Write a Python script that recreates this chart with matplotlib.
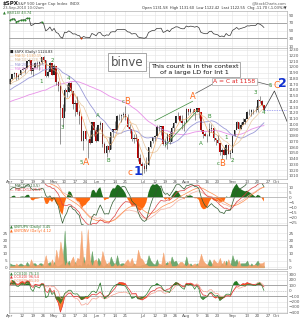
import numpy as np
import pandas as pd
import matplotlib
matplotlib.use("Agg")
import matplotlib.pyplot as plt

# ---------------- data ----------------
pre_close = [1094.9, 1099.5, 1106.8, 1109.2, 1108.0, 1094.6, 1105.2, 1102.9, 1104.5, 1115.7,
             1118.3, 1118.8, 1122.9, 1138.7, 1138.5, 1140.4, 1145.6, 1150.2, 1150.0, 1150.5,
             1159.5, 1166.2, 1165.8, 1159.9, 1165.8, 1174.2, 1167.7, 1165.7, 1166.6, 1173.2,
             1173.3, 1169.4]

close = [1178.1, 1187.4, 1189.4, 1182.5, 1186.4, 1194.4, 1196.5, 1197.3, 1210.7, 1211.7, 1192.1,
         1197.5, 1207.2, 1205.9, 1208.7, 1217.3, 1212.1, 1183.7, 1191.4, 1206.8, 1186.7,
         1202.3, 1173.6, 1165.9, 1128.2, 1110.9, 1159.7, 1155.8, 1171.7, 1157.4, 1135.7,
         1136.9, 1120.8, 1115.1, 1071.6, 1087.7, 1074.0, 1074.0, 1067.9, 1103.1, 1089.4,
         1070.7, 1098.4, 1102.8, 1064.9, 1050.5, 1062.0, 1055.7, 1086.8, 1091.6, 1089.6, 1115.2,
         1114.6, 1116.0, 1117.5, 1113.2, 1095.3, 1092.0, 1073.7, 1076.8, 1074.6, 1041.2, 1030.7,
         1027.4, 1022.6, 1028.1, 1060.3, 1070.3, 1078.0, 1078.8, 1095.3, 1095.2, 1096.5, 1064.9,
         1071.3, 1083.5, 1069.6, 1093.7, 1102.7, 1115.0, 1113.8, 1106.1, 1101.5, 1101.6,
         1125.9, 1120.5, 1127.2, 1125.8, 1121.6, 1127.8, 1121.1, 1089.5, 1083.6, 1079.3, 1079.4,
         1092.5, 1094.2, 1075.6, 1071.7, 1067.4, 1051.9, 1055.3, 1047.2, 1064.6, 1048.9, 1049.3,
         1080.3, 1090.1, 1104.5, 1091.8, 1098.9, 1104.2, 1109.6, 1121.9, 1121.1, 1125.1, 1124.7,
         1125.6, 1142.7, 1139.8, 1134.3, 1124.8]
high = [1181.4, 1187.7, 1191.8, 1189.6, 1187.0, 1194.7, 1199.2, 1199.0, 1210.7, 1213.9, 1210.2,
        1197.9, 1208.6, 1210.9, 1210.9, 1217.3, 1219.8, 1211.4, 1195.1, 1209.4, 1207.0,
        1205.1, 1196.6, 1175.9, 1167.6, 1135.1, 1163.8, 1170.5, 1173.6, 1173.6, 1157.2,
        1141.9, 1148.7, 1124.3, 1107.3, 1089.0, 1089.9, 1074.8, 1090.8, 1103.5, 1103.1,
        1094.8, 1098.4, 1105.7, 1102.8, 1069.1, 1063.6, 1077.7, 1087.0, 1092.0, 1105.9, 1115.6,
        1118.7, 1118.0, 1120.7, 1131.2, 1118.5, 1099.6, 1088.2, 1083.6, 1082.6, 1071.4, 1048.1,
        1033.6, 1032.9, 1042.5, 1060.9, 1071.2, 1078.0, 1080.8, 1099.1, 1099.1, 1097.5, 1093.9,
        1074.7, 1083.9, 1088.0, 1097.5, 1103.7, 1115.0, 1120.9, 1116.1, 1115.3, 1106.4,
        1127.7, 1125.4, 1128.8, 1126.6, 1122.0, 1129.2, 1127.3, 1111.5, 1086.7, 1086.3, 1082.6,
        1101.7, 1099.8, 1092.8, 1075.6, 1081.6, 1066.9, 1059.4, 1060.0, 1065.2, 1064.5, 1055.1,
        1081.3, 1090.1, 1105.1, 1103.1, 1103.3, 1110.9, 1110.3, 1123.4, 1127.4, 1126.0, 1126.6,
        1132.0, 1144.3, 1148.6, 1142.2, 1131.6]
low = [1170.7, 1178.7, 1182.8, 1177.3, 1179.0, 1186.0, 1194.7, 1188.8, 1198.7, 1208.5, 1186.8,
       1183.7, 1199.0, 1198.9, 1194.6, 1205.1, 1211.1, 1181.6, 1182.8, 1193.3, 1186.3,
       1188.6, 1168.1, 1158.2, 1065.8, 1095.0, 1122.3, 1147.7, 1155.9, 1156.1, 1126.1,
       1114.9, 1117.2, 1100.7, 1071.6, 1055.9, 1072.7, 1040.8, 1065.6, 1069.5, 1078.9,
       1069.9, 1070.7, 1091.8, 1060.7, 1050.3, 1042.2, 1052.3, 1056.0, 1077.7, 1089.3, 1089.6,
       1107.1, 1104.7, 1113.3, 1108.2, 1094.2, 1085.3, 1071.5, 1067.9, 1071.5, 1035.2, 1028.3,
       1010.9, 1015.0, 1018.4, 1028.2, 1058.2, 1068.1, 1070.5, 1079.3, 1087.7, 1081.6, 1063.3,
       1061.1, 1056.9, 1065.3, 1071.0, 1087.9, 1101.8, 1109.8, 1104.0, 1091.0, 1088.0,
       1107.7, 1116.0, 1119.5, 1118.8, 1106.9, 1120.9, 1111.6, 1088.0, 1076.0, 1079.0, 1069.5,
       1079.4, 1085.8, 1070.7, 1063.9, 1067.1, 1046.7, 1039.8, 1046.4, 1039.7, 1048.8, 1040.9,
       1055.0, 1080.2, 1094.0, 1091.0, 1091.9, 1101.2, 1101.0, 1113.8, 1115.6, 1115.0, 1118.0,
       1120.9, 1122.1, 1136.2, 1131.9, 1122.4]

up_vol = [3, 2, 2, 1, 2, 3, 2, 1, 4, 2, 1, 3, 3, 1, 3, 3, 1, 1, 3, 4, 1,
          4, 1, 1, 2, 3, 27, 2, 5, 1, 1, 4, 1, 2, 1, 8, 1, 3, 1, 12, 1,
          1, 7, 4, 1, 1, 3, 1, 8, 4, 2, 9, 2, 3, 3, 2, 1, 1, 1, 3, 1, 1, 1,
          2, 2, 3, 9, 5, 3, 2, 6, 1, 2, 1, 3, 4, 1, 8, 4, 5, 2, 1, 1, 2,
          8, 1, 3, 1, 1, 3, 1, 1, 1, 1, 2, 6, 3, 1, 1, 1, 1, 3, 1, 5, 1, 2,
          9, 4, 6, 1, 3, 3, 3, 5, 1, 3, 1, 3, 5, 2, 1, 1]
dn_vol = [1, 1, 1, 3, 1, 1, 1, 2, 1, 1, 6, 2, 1, 2, 2, 1, 3, 9, 2, 1, 6,
          1, 13, 5, 19, 10, 1, 4, 1, 5, 8, 2, 7, 6, 27, 2, 6, 28, 6, 1, 5,
          6, 1, 2, 12, 6, 2, 4, 1, 1, 3, 1, 2, 1, 2, 4, 6, 3, 7, 2, 3, 13, 7,
          6, 3, 2, 1, 1, 1, 1, 1, 3, 2, 11, 2, 2, 5, 1, 1, 1, 2, 4, 4, 2,
          1, 3, 1, 2, 3, 1, 4, 10, 5, 3, 2, 1, 1, 6, 4, 3, 7, 2, 5, 1, 6, 2,
          1, 1, 1, 5, 1, 1, 1, 1, 2, 1, 2, 2, 1, 3, 3, 4]

tick_dates = ['2010-04-01', '2010-04-12', '2010-04-19', '2010-04-26', '2010-05-03', '2010-05-10',
              '2010-05-17', '2010-05-24', '2010-06-01', '2010-06-07', '2010-06-14', '2010-06-21',
              '2010-07-01', '2010-07-12', '2010-07-19', '2010-07-26', '2010-08-02', '2010-08-09',
              '2010-08-16', '2010-08-23', '2010-09-01', '2010-09-13', '2010-09-20', '2010-09-27',
              '2010-10-01']
tick_labels = ['Apr', '12', '19', '26', 'May', '10', '17', '24', 'Jun', '7', '14', '21', 'Jul',
               '12', '19', '26', 'Aug', '9', '16', '23', 'Sep', '13', '20', '27', 'Oct']

# Elliott-wave labels: (date, price, text, colour, size, bold)
waves = [('2010-04-30', 1212, '2', 'g', 4, False), ('2010-04-23', 1175, '1', 'g', 4, False),
         ('2010-05-07', 1094, '3', 'g', 4, False), ('2010-05-12', 1180, '4', 'g', 4, False),
         ('2010-05-20', 1034, '5', 'g', 4, False), ('2010-05-24', 1034, 'A', 'o', 6.5, False),
         ('2010-06-02', 1115, 'A', 'g', 4, False), ('2010-06-09', 1037, 'B', 'g', 4, False),
         ('2010-06-18', 1139, 'c', 'g', 4, False), ('2010-06-22', 1139, 'B', 'o', 6, False),
         ('2010-06-23', 1015, 'c', 'o', 6.5, False), ('2010-06-29', 1017, '1', 'b', 9, True),
         ('2010-08-05', 1149, 'A', 'o', 6, False), ('2010-08-11', 1067, 'A', 'g', 4, False),
         ('2010-08-17', 1113, 'B', 'g', 4, False), ('2010-08-23', 1032, 'c', 'g', 4, False),
         ('2010-08-25', 1032, 'B', 'o', 6, False), ('2010-08-27', 1077, '1', 'g', 4, False),
         ('2010-09-01', 1036, '2', 'g', 4, False), ('2010-09-17', 1156, '3', 'g', 4, False),
         ('2010-09-23', 1121, '4', 'g', 4, False), ('2010-09-28', 1168, '5', 'g', 4, False),
         ('2010-10-01', 1168, 'C', 'o', 6.5, False), ('2010-10-06', 1171, '2', 'b', 9, True)]
projection_dates = ['2010-09-23', '2010-09-30', '2010-10-08']
projection_prices = [1124.8, 1158.0, 1105.0]
channel_upper = (['2010-07-12', '2010-08-05'], [1106, 1140])
channel_lower = (['2010-07-19', '2010-08-09'], [1063, 1123])

# ---------------- calendar (trading days) ----------------
holidays = pd.to_datetime(['2010-04-02', '2010-05-31', '2010-07-05', '2010-09-06'])
all_days = pd.bdate_range('2010-04-01', '2010-10-08')
all_days = all_days[~all_days.isin(holidays)]
pos = {d.strftime('%Y-%m-%d'): i for i, d in enumerate(all_days)}
n = len(close)
x = np.arange(n)
npre = len(pre_close)

C = pd.Series(pre_close + close)
H = pd.Series(pre_close + high)
L = pd.Series(pre_close + low)
O = C.shift(1).fillna(C)

def ema(s, k):
    return s.ewm(span=k, adjust=False).mean()

# RSI(14)
d = C.diff()
gain = d.clip(lower=0).ewm(alpha=1 / 14, adjust=False).mean()
loss = (-d.clip(upper=0)).ewm(alpha=1 / 14, adjust=False).mean()
rsi = (100 - 100 / (1 + gain / loss)).values[npre:]

ma5 = C.rolling(5, min_periods=1).mean().values[npre:]
ma10 = C.rolling(10, min_periods=1).mean().values[npre:]
ma20 = C.rolling(20, min_periods=1).mean().values[npre:]
ma50 = C.rolling(50, min_periods=1).mean().values[npre:]

m_fast = (ema(C, 5) - ema(C, 13))
m_mid = (ema(C, 12) - ema(C, 26))
m_slow = (ema(C, 20) - ema(C, 40))
sig = ema(m_fast, 5)
hist = (m_fast - sig).values[npre:]
m_fast = m_fast.values[npre:]
m_mid = m_mid.values[npre:]
m_slow = m_slow.values[npre:]
sig_mid = ema(pd.Series(m_mid), 9).values

tp = (H + L + C) / 3
def cci(k):
    ma = tp.rolling(k, min_periods=5).mean()
    md = tp.rolling(k, min_periods=5).apply(lambda a: np.mean(np.abs(a - a.mean())), raw=True)
    return ((tp - ma) / (0.015 * md)).values[npre:]
cci_s = cci(10)
cci_m = cci(20)
cci_l = cci(50)

# ---------------- figure ----------------
W, Hh = 301, 320
fig = plt.figure(figsize=(W / 100, Hh / 100), dpi=100)
fig.patch.set_facecolor('white')

def axes_px(top, bottom, left=9, right=287):
    return fig.add_axes([left / W, 1 - bottom / Hh, (right - left) / W, (bottom - top) / Hh])

ax_rsi = axes_px(11, 48)
ax_p = axes_px(48, 179)
ax_m = axes_px(183, 225)
ax_v = axes_px(225, 269)
ax_c = axes_px(271, 313)

tick_pos = [pos[t] for t in tick_dates]
for ax in (ax_rsi, ax_p, ax_m, ax_v, ax_c):
    ax.set_xlim(-0.5, 132)
    ax.set_facecolor('white')
    for s in ax.spines.values():
        s.set_color('#b0b0b0')
        s.set_linewidth(0.5)
    ax.yaxis.tick_right()
    ax.tick_params(axis='both', length=0, labelsize=3, colors='#555555', pad=1)
    ax.set_xticks(tick_pos)
    ax.set_xticklabels([])
    ax.grid(True, color='#e4e4e4', lw=0.4)
    ax.set_axisbelow(True)
for ax in (ax_p, ax_c):
    ax.set_xticklabels(tick_labels)

# RSI panel
ax_rsi.set_ylim(5, 101)
ax_rsi.set_yticks([10, 30, 50, 70, 90])
ax_rsi.axhline(70, color='#9a9a9a', lw=0.6)
ax_rsi.axhline(30, color='#9a9a9a', lw=0.6)
ax_rsi.plot(x, rsi, color='#333333', lw=0.5)
hi = rsi > 70
lo = rsi < 30
ax_rsi.scatter(x[hi], rsi[hi], s=2, color='#2a8a2a', zorder=3, lw=0)
ax_rsi.scatter(x[lo], rsi[lo], s=2, color='#cc3300', zorder=3, lw=0)

# Price panel
ax_p.set_ylim(1004.5, 1233)
ax_p.set_yticks(np.arange(1010, 1231, 10))
ax_p.plot(x, ma50, color='#e890e8', lw=0.6)
ax_p.plot(x, ma20, color='#9a9ad8', lw=0.6)
ax_p.plot(x, ma10, color='#e8c8a0', lw=0.5)
ax_p.plot(x, ma5, color='#f0b070', lw=0.5)
opn = O.values[npre:]
cl = np.array(close)
upd = cl >= opn
ax_p.vlines(x, low, high, color='#444444', lw=0.4)
ax_p.bar(x[upd], (cl - opn)[upd], bottom=opn[upd], width=0.7, color='#222222', lw=0)
ax_p.bar(x[~upd], (cl - opn)[~upd], bottom=opn[~upd], width=0.7, color='#c00000', lw=0)
ax_p.hlines(close[-1], n - 1, 132, color='#8888ee', lw=0.5, linestyles=(0, (2, 1.5)))
ax_p.plot([pos[t] for t in projection_dates], projection_prices, color='#333333', lw=0.5)
for ch in (channel_upper, channel_lower):
    ax_p.plot([pos[t] for t in ch[0]], ch[1], color='#3a8a3a', lw=0.5)

cmap = {'g': '#2e8b2e', 'o': '#ff6a1a', 'b': '#1030d0'}
for dt, pr, t, c, sz, b in waves:
    ax_p.text(pos[dt], pr, t, color=cmap[c], fontsize=sz, ha='center', va='center',
              fontweight='bold' if b else 'normal')

ax_p.text(55.7, 1208, 'binve', fontsize=8.5, color='#555555', ha='center',
          va='center', bbox=dict(boxstyle='square,pad=0.2', fc='white', ec='#999999', lw=0.6))
ax_p.text(88, 1196, 'This count is in the context\nof a large LD for Int 1', fontsize=4.6,
          color='#111111', ha='center', va='center', linespacing=1.2,
          bbox=dict(boxstyle='square,pad=0.3', fc='white', ec='#888888', lw=0.5))
ax_p.text(107, 1175, 'A = C at 1158', fontsize=4.3, color='#e02020', ha='center', va='center',
          bbox=dict(boxstyle='square,pad=0.2', fc='white', ec='#aaaaaa', lw=0.5))
ax_p.plot([88.5, 97.5], [1154, 1172], color='#555555', lw=0.5)
ax_p.plot([116.5, 124], [1175, 1168], color='#555555', lw=0.5)

leg = [('■ $SPX (Daily) 1124.83', '#222222'), ('— MA(5) 1130.15', '#f0b070'),
       ('— MA(10) 1128.76', '#d8b890'), ('— MA(20) 1109.93', '#9a9ad8'),
       ('— MA(50) 1086.31', '#e890e8')]
for i, (t, c) in enumerate(leg):
    ax_p.text(0.005, 0.985 - i * 0.032, t, transform=ax_p.transAxes, fontsize=2.6, color=c,
              va='top', ha='left')

# MACD-like panel
ax_m.set_ylim(-27, 14)
ax_m.set_yticks([10, 5, 0, -5, -10, -15, -20, -25])
ax_m.fill_between(x, 0, hist * 1.5, where=hist >= 0, color='#1f6e1f', lw=0, interpolate=True)
ax_m.fill_between(x, 0, hist * 1.5, where=hist < 0, color='#ff6a10', lw=0, interpolate=True)
ax_m.plot(x, m_slow, color='#f4b0a0', lw=0.5)
ax_m.plot(x, sig_mid, color='#ff9050', lw=0.5)
ax_m.plot(x, m_mid, color='#dd4040', lw=0.5)
ax_m.plot(x, m_fast, color='#2f5a2f', lw=0.5)
ax_m.axhline(0, color='#999999', lw=0.4)
for i, (t, c) in enumerate([('— MACD(5,13,5) ', '#2f5a2f'), ('— MACD(12,26,9) ', '#dd4040')]):
    ax_m.text(0.005, 0.98 - i * 0.09, t, transform=ax_m.transAxes, fontsize=2.6, color=c,
              va='top', ha='left')

# volume ratio panel
ax_v.set_ylim(-1.2, 31)
ax_v.set_yticks([0, 5, 10, 15, 20, 25])
ax_v.tick_params(axis='y', labelleft=True, labelright=True)
ax_v.fill_between(x, 0, up_vol, color='#5f9f5f', lw=0.3, alpha=0.9)
ax_v.fill_between(x, 0, dn_vol, color='#f4a06a', lw=0.3, alpha=0.9)
ax_v.text(0.005, 0.99, '▲ $NYUPV (Daily) 3.45', transform=ax_v.transAxes, fontsize=2.6,
          color='#2e7d2e', va='top')
ax_v.text(0.005, 0.92, '▲ $NYDNV (Daily) 4.12', transform=ax_v.transAxes, fontsize=2.6,
          color='#ff6a1a', va='top')

# CCI panel
ax_c.set_ylim(-410, 357)
ax_c.set_yticks([300, 200, 100, 0, -100, -200, -300, -400])
for lvl in (100, -100):
    ax_c.axhline(lvl, color='#999999', lw=0.6)
ax_c.axhline(0, color='#bbbbbb', lw=0.4, ls=(0, (2, 2)))
ax_c.fill_between(x, 100, cci_m, where=cci_m > 100, color='#ff5020', lw=0, interpolate=True)
ax_c.fill_between(x, -100, cci_m, where=cci_m < -100, color='#ff7a30', lw=0, interpolate=True)
ax_c.fill_between(x, 100, cci_s, where=cci_s > 100, color='#1f7a1f', lw=0, interpolate=True)
ax_c.fill_between(x, -100, cci_s, where=cci_s < -100, color='#1f7a1f', lw=0, interpolate=True,
                  alpha=0.8)
ax_c.plot(x, cci_l, color='#f6a090', lw=0.5)
ax_c.plot(x, cci_m, color='#e03030', lw=0.5)
ax_c.plot(x, cci_s, color='#2e7d2e', lw=0.5)
for i, (t, c) in enumerate([('▲ CCI(10) 75.13', '#2e7d2e'), ('▲ CCI(20) 96.54', '#e03030'),
                            ('▲ CCI(50) 81.20', '#ff8a5a')]):
    ax_c.text(0.005, 0.99 - i * 0.085, t, transform=ax_c.transAxes, fontsize=2.6, color=c,
              va='top')

# header
fig.text(3 / W, 1 - 1 / Hh, '$SPX', fontsize=4, fontweight='bold', color='#222222', va='top')
fig.text(18 / W, 1 - 1.5 / Hh, 'S&P 500 Large Cap Index  INDX', fontsize=2.8, color='#444444',
         va='top')
fig.text(3 / W, 1 - 6 / Hh, '23-Sep-2010 10:02am', fontsize=2.6, color='#555555', va='top')
fig.text(3 / W, 1 - 10 / Hh, '▲ RSI(14) 43.74', fontsize=2.6, color='#2e7d2e', va='top')
fig.text(286 / W, 1 - 1 / Hh, '@StockCharts.com', fontsize=2.6, color='#555555', va='top',
         ha='right')
fig.text(286 / W, 1 - 5.5 / Hh,
         'Open 1131.58  High 1131.60  Low 1122.42  Last 1122.55  Chg -11.70 (-1.03%)▼',
         fontsize=2.6, color='#333333', va='top', ha='right')

fig.savefig('out.png', dpi=100, facecolor='white')
